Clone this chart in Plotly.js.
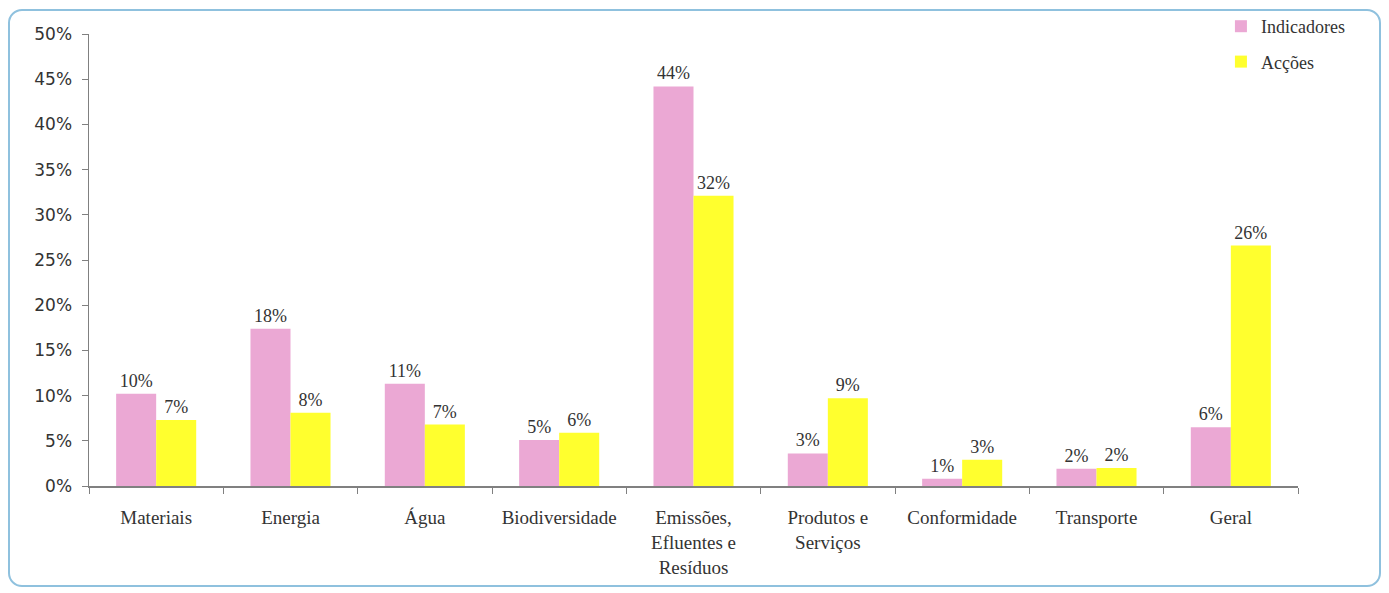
<!DOCTYPE html>
<html><head><meta charset="utf-8">
<script src="https://cdn.plot.ly/plotly-3.0.1.min.js"></script>
<style>
html,body{margin:0;padding:0;background:#fff;}
#wrap{position:relative;width:1389px;height:593px;}
#chart{width:1389px;height:593px;}
#frame{position:absolute;left:8px;top:9px;width:1373px;height:578px;border:2px solid #8fc1de;border-radius:14px;pointer-events:none;box-sizing:border-box;}
</style></head>
<body>
<div id="wrap"><div id="chart"></div><div id="frame"></div></div>
<script>
const categories = ["Materiais","Energia","Água","Biodiversidade","Emissões,<br>Efluentes e<br>Resíduos","Produtos e<br>Serviços","Conformidade","Transporte","Geral"];
const indicadores = [0.102, 0.174, 0.113, 0.051, 0.442, 0.036, 0.008, 0.019, 0.065];
const accoes      = [0.073, 0.081, 0.068, 0.059, 0.321, 0.097, 0.029, 0.020, 0.266];
const indicadoresLabels = ["10%","18%","11%","5%","44%","3%","1%","2%","6%"];
const accoesLabels      = ["7%","8%","7%","6%","32%","9%","3%","2%","26%"];
const seriesNames = ["Indicadores","Acções"];
const yTicks = [0,0.05,0.10,0.15,0.20,0.25,0.30,0.35,0.40,0.45,0.50];

const labelFont = {family:"Liberation Serif, serif", size:18, color:"#333"};
const traces = [
  {type:"bar", name:seriesNames[0], x:categories, y:indicadores, marker:{color:"#EBA8D4"},
   text:indicadoresLabels, texttemplate:"%{text}", textposition:"outside", textfont:labelFont, cliponaxis:false, legendgroup:"a", hoverinfo:"skip"},
  {type:"bar", name:seriesNames[1], x:categories, y:accoes, marker:{color:"#FFFF2E"},
   text:accoesLabels, texttemplate:"%{text}", textposition:"outside", textfont:labelFont, cliponaxis:false, legendgroup:"b", hoverinfo:"skip"}
];
const layout = {
  width:1389, height:593,
  margin:{l:89, r:91, t:34, b:107, autoexpand:false},
  paper_bgcolor:"#fff", plot_bgcolor:"#fff",
  barmode:"group", bargap:0.404, bargroupgap:0,
  font:{family:"Liberation Serif, serif", size:17, color:"#333"},
  showlegend:true,
  legend:{xref:"container", yref:"container", x:0.879, y:0.9865, xanchor:"left", yanchor:"top",
          traceorder:"grouped", tracegroupgap:9,
          font:{family:"Liberation Serif, serif", size:18, color:"#333"}, bgcolor:"rgba(0,0,0,0)"},
  xaxis:{type:"category", showline:true, linecolor:"#808080", linewidth:1.5, ticks:"outside", tickson:"boundaries",
         ticklen:6, tickcolor:"#808080", showgrid:false, zeroline:false, ticklabelstandoff:14,
         tickfont:{family:"Liberation Serif, serif", size:19, color:"#333"}},
  yaxis:{range:[0,0.5], tickvals:yTicks, tickformat:".0%", showline:true, linecolor:"#808080", linewidth:1.5,
         ticks:"outside", ticklen:6, tickcolor:"#808080", showgrid:false, zeroline:false, ticklabelstandoff:6,
         tickfont:{family:"DejaVu Sans, sans-serif", size:17, color:"#333"}}
};
Plotly.newPlot("chart", traces, layout, {displayModeBar:false, staticPlot:true});
</script>
</body></html>
